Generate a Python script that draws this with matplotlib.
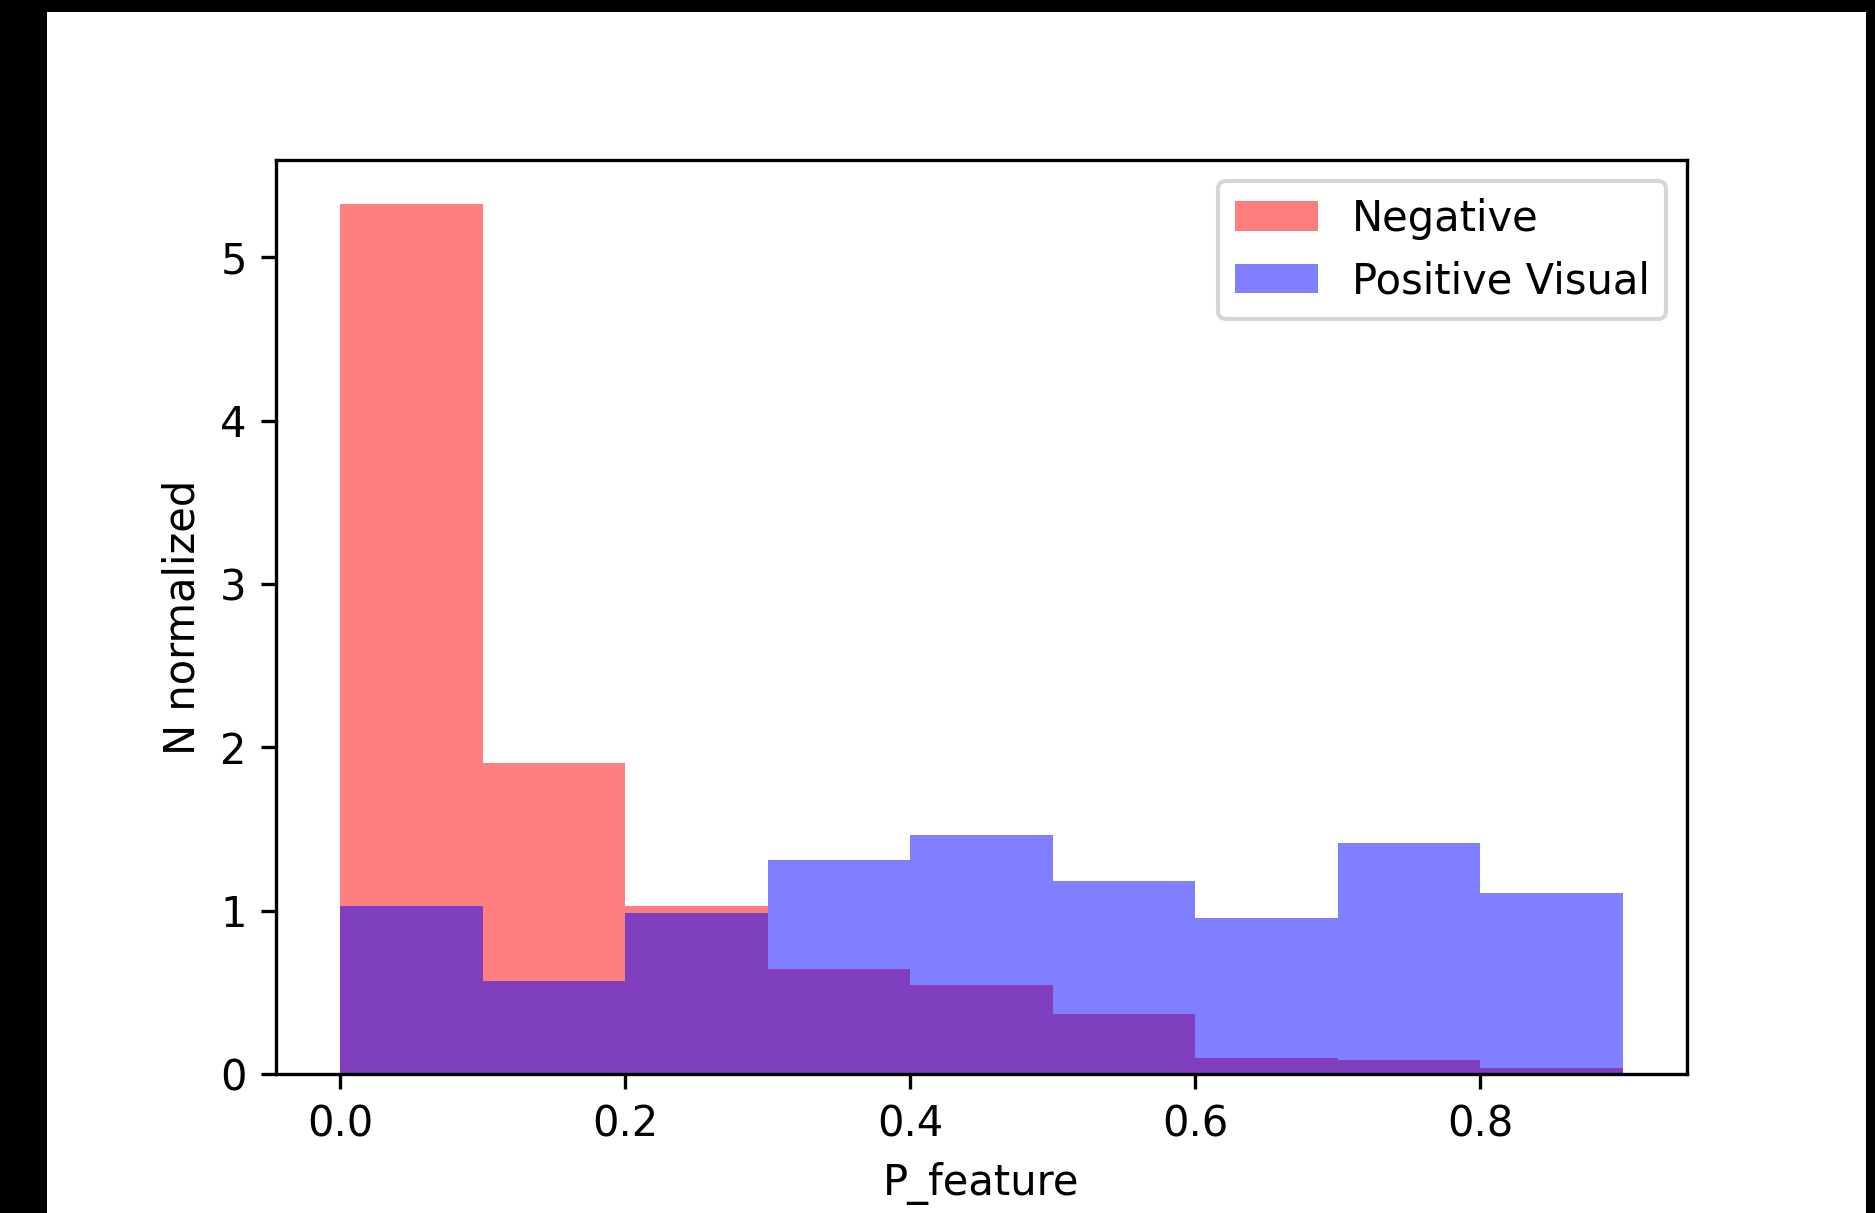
import matplotlib
matplotlib.use('Agg')
import matplotlib.pyplot as plt
from matplotlib.patches import Rectangle

# histogram bins (P_feature) and normalized counts
bin_edges = [0.0, 0.1, 0.2, 0.3, 0.4, 0.5, 0.6, 0.7, 0.8, 0.9]
negative = [5.33, 1.905, 1.03, 0.645, 0.545, 0.365, 0.10, 0.085, 0.035]
positive = [1.03, 0.57, 0.985, 1.31, 1.465, 1.18, 0.955, 1.415, 1.11]

dpi = 300
fig = plt.figure(figsize=(1875 / dpi, 1213 / dpi), dpi=dpi)
fig.patch.set_facecolor('black')
# white canvas inside the black frame of the screenshot
fig.patches.append(Rectangle((47 / 1875, 0), (1866 - 47) / 1875, 1 - 12 / 1213,
                             transform=fig.transFigure, facecolor='white',
                             edgecolor='none', zorder=-10))

ax = fig.add_axes([276 / 1875, 1 - 1074 / 1213, (1687 - 276) / 1875, (1074 - 160) / 1213])

centers = [(a + b) / 2 for a, b in zip(bin_edges[:-1], bin_edges[1:])]
ax.hist(centers, bins=bin_edges, weights=negative, color='red', alpha=0.5, label='Negative')
ax.hist(centers, bins=bin_edges, weights=positive, color='blue', alpha=0.5, label='Positive Visual')

ax.set_xlabel('P_feature')
ax.set_ylabel('N normalized')
ax.legend(loc='upper right')

fig.savefig('out.png', dpi=dpi, facecolor=fig.get_facecolor())
